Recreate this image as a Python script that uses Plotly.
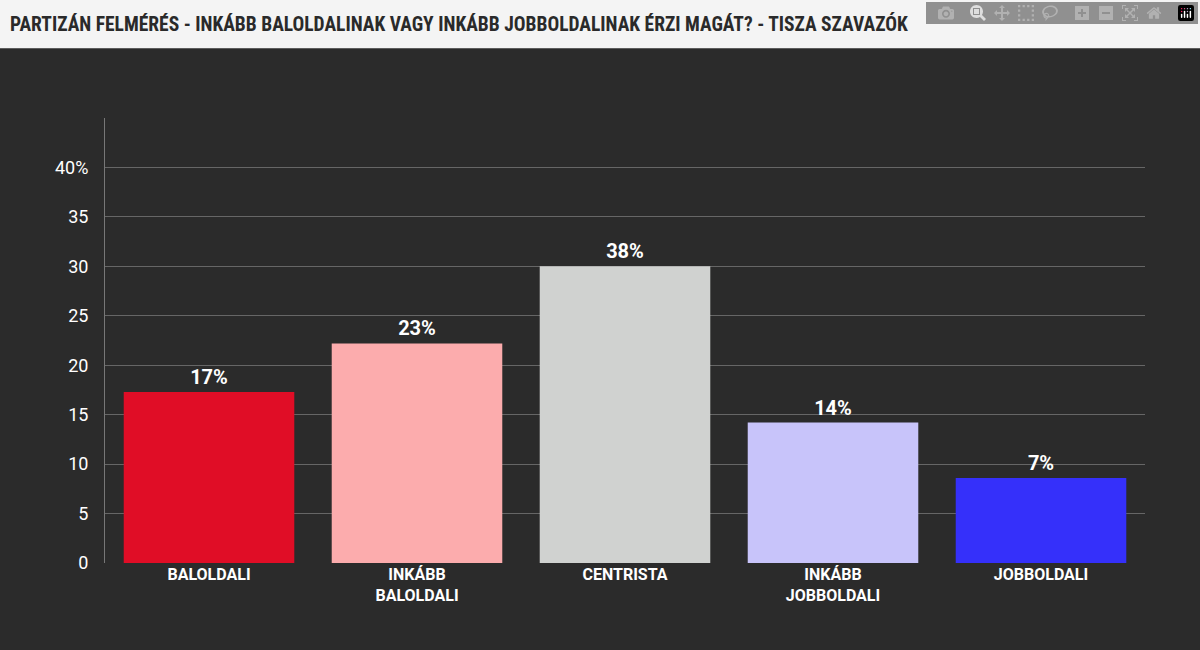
import plotly.graph_objects as go

categories = ["BALOLDALI", "INKÁBB<br>BALOLDALI", "CENTRISTA", "INKÁBB<br>JOBBOLDALI", "JOBBOLDALI"]
bar_values = [17.3, 22.2, 30.0, 14.2, 8.6]
label_texts = ["17%", "23%", "38%", "14%", "7%"]
colors = ["#e00d26", "#fcacad", "#d0d2d0", "#c8c4fa", "#3530fa"]
tick_vals = [0, 5, 10, 15, 20, 25, 30, 35, 40]
tick_text = ["0", "5", "10", "15", "20", "25", "30", "35", "40%"]
title = "PARTIZÁN FELMÉRÉS - INKÁBB BALOLDALINAK VAGY INKÁBB JOBBOLDALINAK ÉRZI MAGÁT? - TISZA SZAVAZÓK"

fig = go.Figure(go.Bar(
    x=categories, y=bar_values, marker=dict(color=colors, line=dict(width=0)),
    text=["<b>" + t + "</b>" for t in label_texts], textposition="outside", cliponaxis=False,
    textfont=dict(color="white", size=20, family="Roboto"), width=0.82,
))
fig.update_layout(
    width=1200, height=650, paper_bgcolor="#2b2b2b", plot_bgcolor="#2b2b2b",
    margin=dict(l=105, r=55, t=118, b=87), showlegend=False,
    font=dict(family="Roboto", color="white"),
    shapes=[dict(type="rect", xref="paper", yref="paper", x0=-0.2, x1=1.1, y0=1.157, y1=1.3,
                 fillcolor="#f4f4f4", line=dict(width=0), layer="above")],
    annotations=[dict(text="<b>" + title + "</b>", xref="paper", yref="paper", x=-0.093, y=1.211,
                      xanchor="left", yanchor="middle", showarrow=False,
                      font=dict(size=19.5, color="#2a2a2a", family="Roboto Condensed, Roboto"))],
)
fig.update_xaxes(tickfont=dict(size=16, color="white", weight="bold"), showgrid=False, ticks="", showline=False)
fig.update_yaxes(range=[0, 45], tickvals=tick_vals, ticktext=tick_text, showgrid=True,
                 gridcolor="#666666", gridwidth=1, showline=True, linecolor="#777777",
                 tickfont=dict(size=18, color="white"), ticks="", ticklabelstandoff=12, zeroline=False)
fig.write_html("out.html", post_script="document.body.style.margin='0';")
